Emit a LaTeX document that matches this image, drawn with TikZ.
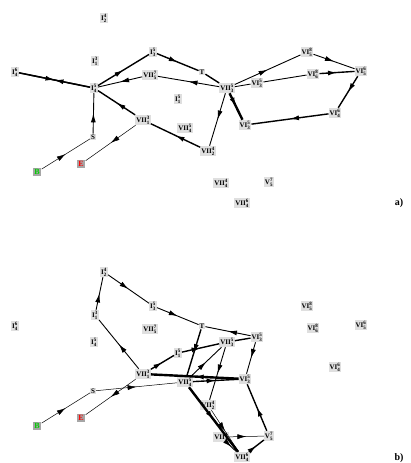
\documentclass[tikz,border=0pt]{standalone}
\usepackage{fontspec}
\setmainfont{Liberation Serif}
\usetikzlibrary{arrows.meta,decorations.markings}
\newcommand{\glab}[3]{\textbf{#1}$^{\mathbf{#2}}_{\mathbf{#3}}$}
\newcommand{\placenodes}[1]{%
  \node[st] (#1I42) at (104,18) {\glab{I}{4}{2}};
  \node[st] (#1I31) at (95,61) {\glab{I}{3}{1}};
  \node[st] (#1I64) at (15,72) {\glab{I}{6}{4}};
  \node[st] (#1I54) at (94,88) {\glab{I}{5}{4}};
  \node[st] (#1I53) at (153,52) {\glab{I}{5}{3}};
  \node[st] (#1T) at (202,72) {\textbf{T}};
  \node[st] (#1VIIa) at (150,75) {\glab{VII}{7}{5}};
  \node[st] (#1I51) at (178,99) {\glab{I}{5}{1}};
  \node[st] (#1VIIb) at (143,120) {\glab{VII}{3}{1}};
  \node[st] (#1VIIc) at (185,128) {\glab{VII}{5}{4}};
  \node[st] (#1S) at (93,137) {\textbf{S}};
  \node[bx, text=green!80!black] (#1B) at (37,172) {B};
  \node[bx, text=red] (#1E) at (81,164) {E};
  \node[st] (#1VIId) at (208,151) {\glab{VII}{4}{2}};
  \node[st] (#1VIIe) at (227,88) {\glab{VII}{5}{3}};
  \node[st] (#1VIa) at (257,83) {\glab{VI}{5}{3}};
  \node[st] (#1VIb) at (307,52) {\glab{VI}{8}{5}};
  \node[st] (#1VIc) at (313,74) {\glab{VI}{8}{6}};
  \node[st] (#1VId) at (361,71) {\glab{VI}{6}{5}};
  \node[st] (#1VIe) at (335,113) {\glab{VI}{6}{4}};
  \node[st] (#1VIf) at (245,125) {\glab{VI}{5}{3}};
  \node[st] (#1VIIf) at (221,183) {\glab{VII}{4}{4}};
  \node[st] (#1V75) at (269,182) {\glab{V}{7}{5}};
  \node[st] (#1VIIg) at (242,203) {\glab{VII}{6}{4}};
}
\begin{document}
\begin{tikzpicture}[x=1pt,y=-1pt,
  st/.style={fill=gray!25, inner sep=0.9pt, font=\fontsize{7}{8}\selectfont},
  bx/.style={fill=gray!70, inner sep=1.8pt, font=\fontsize{8}{9}\selectfont\bfseries},
  ar/.style={postaction={decorate}, decoration={markings, mark=at position 0.5 with {\arrow{Latex[length=9pt,width=5pt]}}}},
  thn/.style={line width=0.5pt},
  med/.style={line width=0.9pt},
  thk/.style={line width=1.4pt},
  vthk/.style={line width=2.4pt},
  plbl/.style={font=\fontsize{10}{11}\selectfont\bfseries}]
\useasboundingbox (0,0) rectangle (410,463);
% panel a
\placenodes{a}
\node[plbl] (pa) at (399,203) {a)};
\draw[thk,ar] (aI64) -- (aI54);
\draw[thk,ar] (aI54) -- (aI64);
\draw[thk,ar] (aI54) -- (aI53);
\draw[thk,ar] (aI53) -- (aT);
\draw[med,ar] (aVIIe) -- (aVIIa);
\draw[med,ar] (aVIIa) -- (aI54);
\draw[med,ar] (aS) -- (aI54);
\draw[thk,ar] (aVIIb) -- (aI54);
\draw[thn,ar] (aVIIb) -- (aE);
\draw[thn,ar] (aB) -- (aS);
\draw[thk,ar] (aVIId) -- (aVIIb);
\draw[med,ar] (aVIIe) -- (aVIId);
\draw[vthk,ar] (aVIIe) -- (aVIf);
\draw[med,ar] (aVIIe) -- (aVIb);
\draw[med,ar] (aVIb) -- (aVId);
\draw[thk,ar] (aVIc) -- (aVId);
\draw[thk,ar] (aVId) -- (aVIe);
\draw[thk,ar] (aVIe) -- (aVIf);
\draw[thk] (aT) -- (aVIIe);
\draw[med] (aVIIe) -- (aVIa);
\draw[med] (aVIa) -- (aVIc);
% panel b
\begin{scope}[shift={(0,254)}]
\placenodes{b}
\node[plbl] (pb) at (399,204) {b)};
\end{scope}
\draw[thn,ar] (bB) -- (bS);
\draw[thn,ar] (bS) -- (bVIIc);
\draw[thn,ar] (bVIIb) -- (bE);
\draw[med,ar] (bVIIb) -- (bI31);
\draw[med,ar] (bI31) -- (bI42);
\draw[med,ar] (bI42) -- (bI53);
\draw[med,ar] (bI53) -- (bT);
\draw[thk,ar] (bVIIb) -- (bI51);
\draw[thk,ar] (bI51) -- (bVIIe);
\draw[thk,ar] (bT) -- (bVIIc);
\draw[med,ar] (bVIa) -- (bT);
\draw[thk] (bVIIe) -- (bVIa);
\draw[med,ar] (bVIa) -- (bVIf);
\draw[med,ar] (bVIIc) -- (bVIIe);
\draw[med,ar] (bVIIe) -- (bVIId);
\draw[thn,ar] (bVIId) -- (bVIIg);
\draw[vthk,ar] (bVIIc) -- (bVIIg);
\draw[med,ar] (bVIIf) -- (bVIIg);
\draw[thn,ar] (bVIIf) -- (bV75);
\draw[thk,ar] (bVIIg) -- (bV75);
\draw[thk,ar] (bV75) -- (bVIf);
\draw[vthk,ar] (bVIf) -- (bVIIb);
\draw[thk,ar] (bVIIc) -- (bVIf);
\end{tikzpicture}
\end{document}
